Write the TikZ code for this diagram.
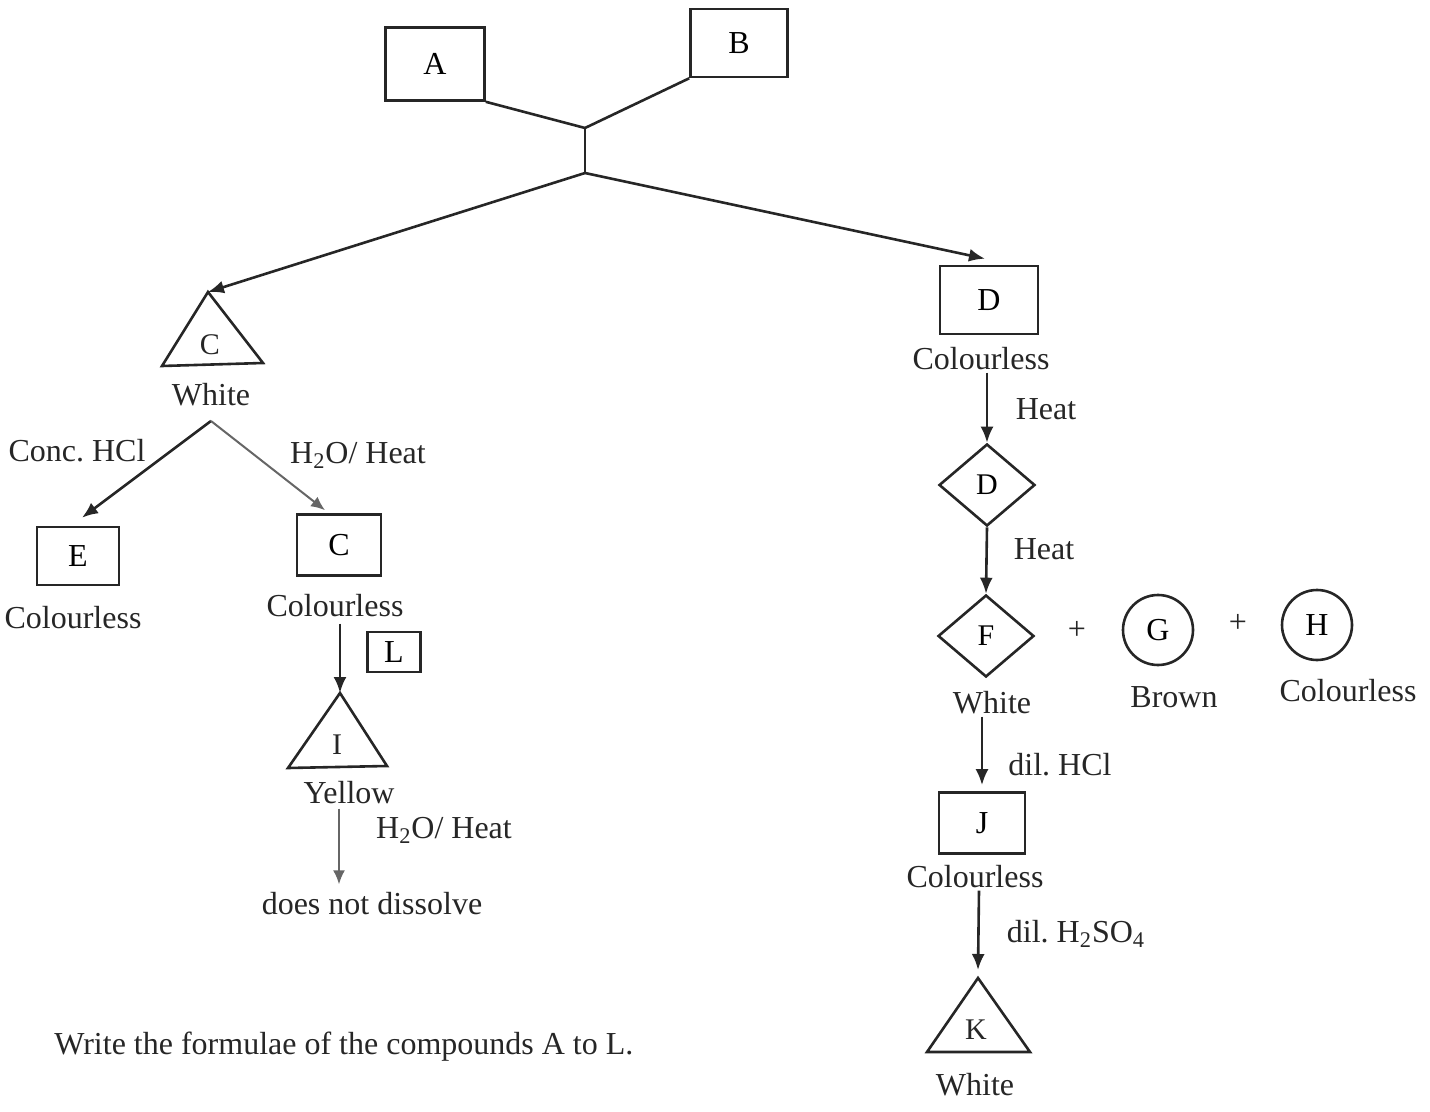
\documentclass[tikz,border=0pt]{standalone}
\usepackage{fontspec}
\setmainfont{Liberation Serif}
\frenchspacing
\usetikzlibrary{arrows.meta,shapes.geometric,calc}
\tikzset{
  ln/.style={line width=1.3pt, draw=black!85},
  arr/.style={ln, -{Latex[length=8pt,width=6.5pt]}},
  garr/.style={line width=1pt, draw=black!60, -{Latex[length=7pt,width=6pt]}},
  box/.style={draw=black!85, line width=1.3pt, rectangle, inner sep=0pt, font=\fontsize{16}{19}\selectfont},
  dia/.style={draw=black!85, line width=1.3pt, diamond, inner sep=0pt, aspect=1.15, minimum width=48pt, minimum height=41pt, font=\fontsize{15}{18}\selectfont},
  circ/.style={draw=black!85, line width=1.3pt, circle, inner sep=0pt, minimum size=35pt, font=\fontsize{16}{19}\selectfont},
  lbl/.style={inner sep=1pt, text=black!85, font=\fontsize{16}{19}\selectfont},
  let/.style={inner sep=0pt, text=black!85, font=\fontsize{15}{18}\selectfont},
}
\begin{document}
\begin{tikzpicture}[x=0.5pt,y=-0.5pt]
\useasboundingbox (0,0) rectangle (1430,1112);
% top boxes
\node[box, minimum width=49.5pt, minimum height=36.5pt] (A) at (435,64) {A};
\node[box, minimum width=48.5pt, minimum height=34pt] (B) at (739,43) {B};
\coordinate (J1) at (585,128);
\coordinate (J2) at (585,173);
\draw[ln] (A.south east) -- (J1);
\draw[ln] (B.south west) -- (J1);
\draw[ln] (J1) -- (J2);
% triangle C
\node[let] (C) at (210,345) {C};
\coordinate (Ctop) at (208,292);
\draw[ln] (Ctop) -- (162,366) -- (263,363) -- cycle;
\node[lbl] (Cw) at (211,395) {White};
% D box
\node[box, minimum width=49pt, minimum height=34pt] (D) at (989,300) {D};
\draw[arr] (J2) -- (Ctop);
\draw[arr] (J2) -- ($(D.north)+(-4,-6)$);
\node[lbl] (Dcol) at (981,359) {Colourless};
% diamond D
\node[dia] (D2) at (987,485) {D};
\draw[arr] (Dcol.south -| D2.north) -- (D2.north);
\node[lbl] (h1) at (1046,409) {Heat};
% diamond F
\node[dia] (F) at (986,636) {F};
\draw[arr] (D2.south) -- (F.north);
\node[lbl] (h2) at (1044,549) {Heat};
\node[lbl] (p1) at (1077,630) {+};
\node[circ] (G) at (1158,630) {G};
\node[lbl] (p2) at (1238,623) {+};
\node[circ] (H) at (1317,625) {H};
\node[lbl] (Fw) at (992,703) {White};
\node[lbl] (Gb) at (1174,697) {Brown};
\node[lbl] (Hc) at (1348,691) {Colourless};
% J box
\node[box, minimum width=43pt, minimum height=30.5pt] (J) at (982,823) {J};
\draw[arr] ($(Fw.south)+(-10,0)$) -- ($(J.north)+(0,-6)$);
\node[lbl] (dh) at (1060,765) {dil. HCl};
\node[lbl] (Jc) at (975,877) {Colourless};
% triangle K
\node[let] (K) at (976,1030) {K};
\coordinate (Ktop) at (978,978);
\draw[ln] (Ktop) -- (927,1052) -- (1030,1052) -- cycle;
\draw[arr] ($(Jc.south)+(4,0)$) -- ($(Ktop)+(0,-8)$);
\node[lbl] (ds) at (1076,934) {dil. H\textsubscript{2}SO\textsubscript{4}};
\node[lbl] (Kw) at (975,1085) {White};
% left branch
\coordinate (Cbr) at (211,421);
\node[box, minimum width=41pt, minimum height=29pt] (E) at (78,556) {E};
\node[box, minimum width=42pt, minimum height=30.5pt] (C2) at (339,545) {C};
\draw[arr] (Cbr) -- ($(E.north)+(4,-8)$);
\draw[garr] (Cbr) -- ($(C2.north)+(-14,-3)$);
\node[lbl] (hcl) at (77,451) {Conc. HCl};
\node[lbl] (hh1) at (358,455) {H\textsubscript{2}O/ Heat};
\node[lbl] (Ec) at (73,618) {Colourless};
\node[lbl] (C2c) at (335,606) {Colourless};
% L box
\node[box, minimum width=26.5pt, minimum height=20pt] (L) at (394,652) {L};
% triangle I
\node[let] (I) at (337,745) {I};
\coordinate (Itop) at (340,693);
\draw[ln] (Itop) -- (288,768) -- (387,766) -- cycle;
\draw[arr] ($(C2c.south)+(5,4)$) -- (Itop);
\node[lbl] (Iy) at (349,793) {Yellow};
\node[lbl] (dnd) at (372,904) {does not dissolve};
\draw[garr] ($(Iy.south)+(-10,2)$) -- ($(dnd.north)+(-33,-6)$);
\node[lbl] (hh2) at (444,830) {H\textsubscript{2}O/ Heat};
% question
\node[lbl, anchor=west] (q) at (52,1047) {Write the formulae of the compounds A to L.};
\end{tikzpicture}
\end{document}
